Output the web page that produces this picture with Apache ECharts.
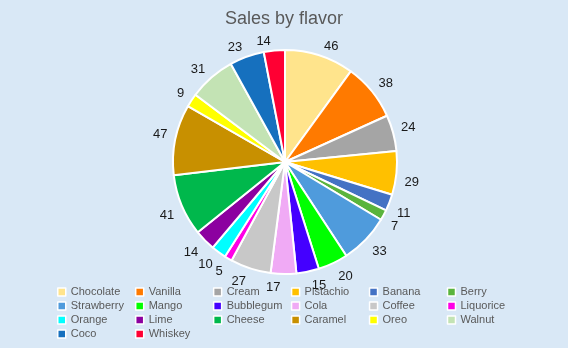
<!DOCTYPE html>
<html>
<head>
<meta charset="utf-8">
<script src="https://cdn.jsdelivr.net/npm/echarts@6/dist/echarts.min.js"></script>
<style>
  html, body { margin: 0; padding: 0; background: #d9e8f6; }
  #chart { width: 568px; height: 348px; }
</style>
</head>
<body>
<div id="chart"></div>
<script>
// Flavours, sales and slice colours
const flavors = ['Chocolate', 'Vanilla', 'Cream', 'Pistachio', 'Banana', 'Berry',
  'Strawberry', 'Mango', 'Bubblegum', 'Cola', 'Coffee', 'Liquorice',
  'Orange', 'Lime', 'Cheese', 'Caramel', 'Oreo', 'Walnut', 'Coco', 'Whiskey'];
const sales = [46, 38, 24, 29, 11, 7, 33, 20, 15, 17, 27, 5, 10, 14, 41, 47, 9, 31, 23, 14];
const colors = ['#ffe48c', '#ff7a00', '#a5a5a5', '#ffc000', '#4472c4', '#5ab43c',
  '#4f9bdc', '#00ff00', '#4400ff', '#f0aaf5', '#c8c8c8', '#ff00e6',
  '#00ffff', '#8c00a0', '#00b84c', '#c89000', '#ffff00', '#c3e3b4', '#1670be', '#ff0033'];

const font = 'Liberation Sans, Arial, sans-serif';
const pieCenter = [285, 162];
const slices = flavors.map((name, i) => ({ name, value: sales[i] }));

const chart = echarts.init(document.getElementById('chart'), null, { renderer: 'canvas' });
chart.setOption({
  backgroundColor: '#d9e8f6',
  animation: false,
  color: colors,
  title: {
    text: 'Sales by flavor',
    left: 'center',
    top: 5,
    textStyle: { fontFamily: font, fontSize: 18, fontWeight: 'normal', color: '#595959' }
  },
  legend: {
    data: flavors,
    left: 52,
    top: 281,
    width: 470,
    itemWidth: 8,
    itemHeight: 8,
    itemGap: 2,
    icon: 'rect',
    itemStyle: { borderColor: '#ffffff', borderWidth: 1.5 },
    textStyle: { fontFamily: font, fontSize: 11, color: '#595959', width: 62.2, lineHeight: 12 }
  },
  series: [
    {
      type: 'pie',
      center: pieCenter,
      radius: 112,
      startAngle: 90,
      clockwise: true,
      avoidLabelOverlap: false,
      data: slices,
      itemStyle: { borderColor: '#ffffff', borderWidth: 2 },
      label: {
        show: true,
        position: 'outside',
        formatter: '{c}',
        fontFamily: font,
        fontSize: 13,
        color: '#1a1a1a',
        distanceToLabelLine: 3
      },
      labelLine: { show: false, length: 5, length2: 0 },
      // hang labels below the anchor on the lower half, above it on the upper half
      labelLayout: function (params) {
        const r = params.labelRect;
        const lower = r.y + r.height / 2 > pieCenter[1];
        return { verticalAlign: lower ? 'top' : 'bottom', dy: 2 };
      }
    }
  ]
});
</script>
</body>
</html>
